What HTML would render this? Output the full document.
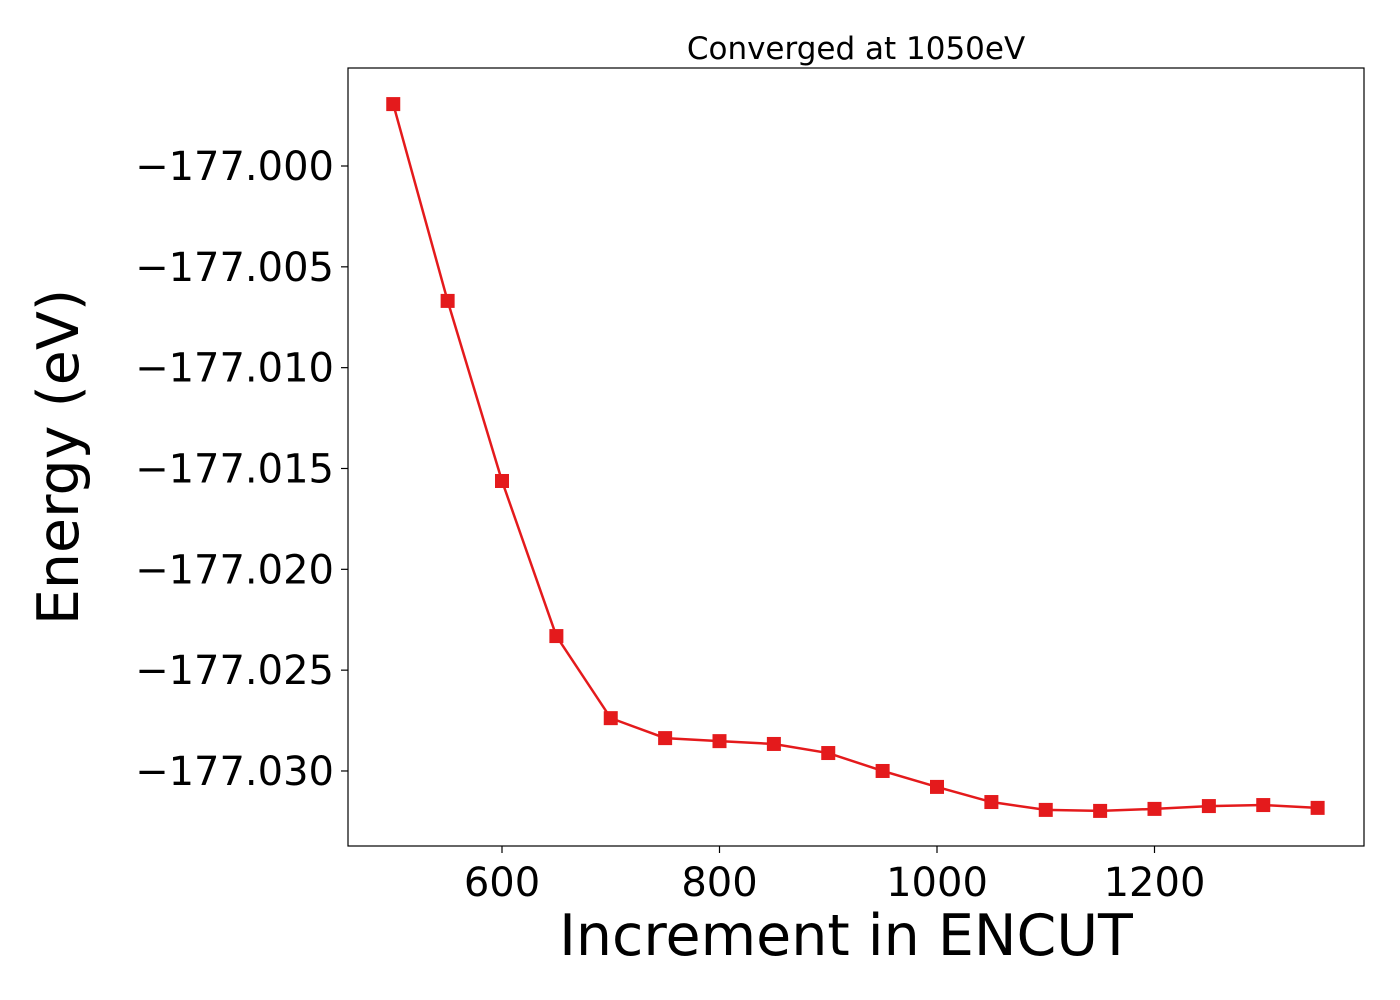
<!DOCTYPE html>
<html><head><meta charset="utf-8"><style>
html,body{margin:0;padding:0;background:#fff;}
svg{display:block;font-family:"DejaVu Sans","Liberation Sans",sans-serif;}
</style></head><body>
<svg id="chart" width="1400" height="1000">
<rect x="0" y="0" width="1400" height="1000" fill="#fff"/>
<g id="axes"></g>
<rect x="348" y="68" width="1016" height="778" fill="none" stroke="#000" stroke-width="1.2"/>
<text x="856" y="59" text-anchor="middle" font-size="31">Converged at 1050eV</text>
<text x="846" y="955" text-anchor="middle" font-size="57">Increment in ENCUT</text>
<text transform="translate(78,457) rotate(-90)" text-anchor="middle" font-size="57">Energy (eV)</text>
</svg>
<script>
const encut = [500,550,600,650,700,750,800,850,900,950,1000,1050,1100,1150,1200,1250,1300,1350];
const energy = [-176.99693,-177.00669,-177.01562,-177.02331,-177.02738,-177.02837,-177.02852,-177.02866,-177.02911,-177.03000,-177.03079,-177.03154,-177.03193,-177.03198,-177.03188,-177.03174,-177.03169,-177.03183];
const xTicks = [600,800,1000,1200];
const yTicks = [-177.000,-177.005,-177.010,-177.015,-177.020,-177.025,-177.030];
const yTickLabels = ["\u2212177.000","\u2212177.005","\u2212177.010","\u2212177.015","\u2212177.020","\u2212177.025","\u2212177.030"];

function xs(v){return 502 + (v-600)*(217.5/200);}
function ys(v){return 166 + (-177.000 - v)/0.005*100.83;}
const NS="http://www.w3.org/2000/svg";
const g=document.getElementById('axes');
function mk(t,a){const e=document.createElementNS(NS,t);for(const k in a)e.setAttribute(k,a[k]);g.appendChild(e);return e;}
xTicks.forEach(v=>{
  const t=mk('line',{x1:xs(v),x2:xs(v),y1:846,y2:853,stroke:'#000','stroke-width':1.2});
  
  
  const l=mk('text',{x:xs(v),y:896,'text-anchor':'middle','font-size':40});
  l.textContent=v;
  
  
});
yTicks.forEach((v,i)=>{
  const t=mk('line',{x1:341,x2:348,y1:ys(v),y2:ys(v),stroke:'#000','stroke-width':1.2});
  
  
  const l=mk('text',{x:334,y:ys(v)+14,'text-anchor':'end','font-size':40});
  l.textContent=yTickLabels[i];
  
  
});
const pts=encut.map((v,i)=>xs(v)+','+ys(energy[i])).join(' ');
const line=mk('polyline',{points:pts,fill:'none',stroke:'#e41a1c','stroke-width':2.5});


encut.forEach((v,i)=>{
  const r=mk('rect',{x:xs(v)-7,y:ys(energy[i])-7,width:14,height:14,fill:'#e41a1c'});
  
  
});
</script>
</body></html>
